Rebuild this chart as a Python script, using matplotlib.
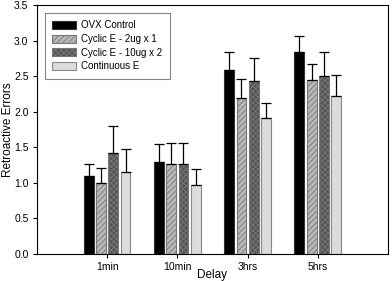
import numpy as np
import matplotlib.pyplot as plt

plt.rcParams['font.family'] = ['Liberation Sans', 'DejaVu Sans']
plt.rcParams['hatch.linewidth'] = 0.6

delays = ['1min', '10min', '3hrs', '5hrs']
groups = ['OVX Control', 'Cyclic E - 2ug x 1', 'Cyclic E - 10ug x 2', 'Continuous E']
ovx = [1.10, 1.30, 2.59, 2.84]
ovx_err = [0.16, 0.25, 0.25, 0.22]
cyc1 = [1.00, 1.27, 2.20, 2.45]
cyc1_err = [0.21, 0.29, 0.26, 0.22]
cyc2 = [1.42, 1.27, 2.43, 2.50]
cyc2_err = [0.38, 0.29, 0.33, 0.34]
cont = [1.15, 0.97, 1.91, 2.22]
cont_err = [0.33, 0.23, 0.22, 0.30]

fig = plt.figure(figsize=(3.92, 2.81), dpi=100)
ax = fig.add_axes([0.094, 0.096, 0.896, 0.886])

x = np.arange(len(delays))
step = 0.175
w = 0.14
styles = [('#000000', None, '#333333'),
          ('#b8b8b8', '//////', '#777777'),
          ('#555555', 'xxxxxx', '#777777'),
          ('#dcdcdc', None, '#888888')]
series = [(ovx, ovx_err), (cyc1, cyc1_err), (cyc2, cyc2_err), (cont, cont_err)]
for i, ((vals, errs), (fc, hatch, ec), lab) in enumerate(zip(series, styles, groups)):
    pos = x + (i - 1.5) * step
    ax.bar(pos, vals, w, color=fc, hatch=hatch, edgecolor=ec, linewidth=0.8, label=lab)
    ax.errorbar(pos, vals, yerr=[np.zeros(4), errs], fmt='none', ecolor='black',
                elinewidth=0.9, capsize=3.5, capthick=0.9)

ax.set_xlim(-1, 4)
ax.set_ylim(0, 3.5)
ax.set_xticks(x)
ax.set_xticklabels(delays)
ax.set_yticks(np.arange(0, 3.6, 0.5))
ax.tick_params(labelsize=7.5, length=3, width=0.8, pad=3)
ax.set_ylabel('Retroactive Errors', fontsize=8.5)
ax.yaxis.set_label_coords(-0.066, 0.5)
ax.set_xlabel('Delay', fontsize=8.5)
ax.xaxis.set_label_coords(0.5, -0.062)
leg = ax.legend(loc='upper left', fontsize=7, fancybox=False, edgecolor='#888888',
                borderpad=0.75, handlelength=2.4, handleheight=0.9, labelspacing=0.38,
                handletextpad=0.6, bbox_to_anchor=(0.023, 0.968), framealpha=1,
                borderaxespad=0)
leg.get_frame().set_linewidth(0.8)

fig.savefig('out.png', dpi=100)
